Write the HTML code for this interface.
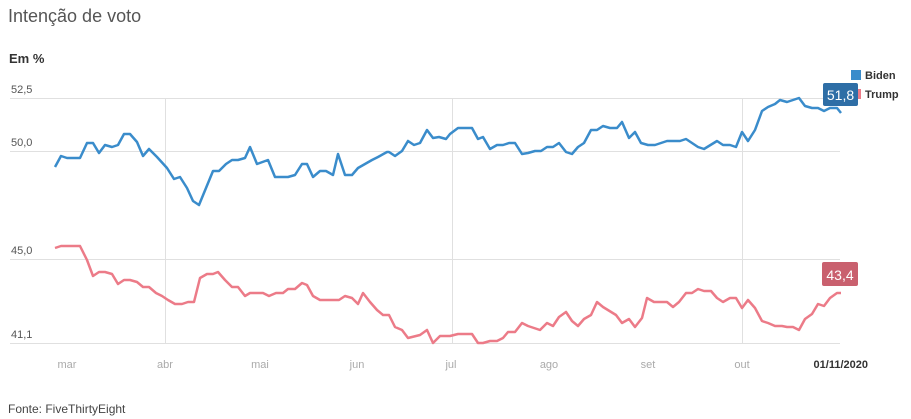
<!DOCTYPE html>
<html><head><meta charset="utf-8"><style>
html,body{margin:0;padding:0;background:#fff;width:911px;height:419px;overflow:hidden}
svg{display:block;font-family:"Liberation Sans",sans-serif}
</style></head><body>
<svg width="911" height="419" viewBox="0 0 911 419">
<text x="8" y="22" font-size="18" fill="#555">Intenção de voto</text>
<text x="9" y="63" font-size="13" font-weight="bold" fill="#333">Em %</text>
<g stroke="#e0e0e0" stroke-width="1">
<line x1="10" y1="98.5" x2="840" y2="98.5"/>
<line x1="10" y1="151.5" x2="840" y2="151.5"/>
<line x1="10" y1="259.5" x2="840" y2="259.5"/>
<line x1="10" y1="343.5" x2="840" y2="343.5"/>
<line x1="165.5" y1="99" x2="165.5" y2="343"/>
<line x1="452.5" y1="99" x2="452.5" y2="343"/>
<line x1="742.5" y1="99" x2="742.5" y2="343"/>
</g>
<g font-size="11" fill="#555">
<text x="11" y="93">52,5</text>
<text x="11" y="146">50,0</text>
<text x="11" y="254">45,0</text>
<text x="11" y="338">41,1</text>
</g>
<g font-size="11" fill="#aaa" text-anchor="middle">
<text x="67" y="368">mar</text><text x="165" y="368">abr</text><text x="260" y="368">mai</text>
<text x="357" y="368">jun</text><text x="451" y="368">jul</text><text x="549" y="368">ago</text>
<text x="648" y="368">set</text><text x="742" y="368">out</text>
</g>
<text x="868" y="368" font-size="11" font-weight="bold" fill="#333" text-anchor="end">01/11/2020</text>
<polyline fill="none" stroke="#3a8ccb" stroke-width="2.5" stroke-linejoin="round" points="55,167 61,156 67,158 80,158 87,143 93,143 99,153 105,145 112,147 118,145 124,134 130,134 137,142 143,156 149,149 157,157 167,168 174,179 180,177 187,188 193,201 199,205 206,188 213,171 219,171 226,164 232,160 238,160 245,158 250,147 257,164 268,160 275,177 288,177 295,175 302,164 307,164 313,177 320,171 326,171 333,175 338,154 345,175 352,175 358,168 365,164 372,160 378,157 387,152 389,152 395,156 402,151 408,141 414,145 420,143 427,130 433,138 439,137 446,139 450,134 458,128 472,128 478,139 483,137 490,149 497,145 503,145 509,143 515,143 522,154 528,153 535,151 541,151 547,147 553,147 559,143 566,152 572,154 578,147 584,143 591,130 597,130 603,126 610,128 617,128 622,122 629,138 635,132 641,143 648,145 655,145 667,141 680,141 686,139 692,143 698,147 704,149 717,141 723,145 730,145 736,147 742,132 748,141 755,130 762,111 768,107 775,104 780,100 787,102 793,100 799,98 805,106 812,108 818,108 824,111 830,108 837,108 841,113"/>
<polyline fill="none" stroke="#ec7b88" stroke-width="2.5" stroke-linejoin="round" points="55,248 61,246 80,246 87,260 93,276 99,272 105,272 112,274 118,284 124,280 130,280 137,282 143,287 149,287 156,293 162,296 168,300 175,304 182,304 188,302 194,302 200,278 207,274 213,274 218,272 225,280 232,287 238,287 245,296 250,293 263,293 269,296 276,293 283,293 288,289 295,289 302,283 307,285 313,296 320,300 339,300 345,296 352,298 358,304 363,293 370,302 377,310 383,315 389,315 395,327 402,330 408,338 420,335 427,330 433,343 440,336 450,336 458,334 472,334 478,343 483,343 490,341 497,341 503,338 508,332 515,332 522,323 528,326 540,330 547,323 553,326 559,317 566,312 572,321 578,326 584,319 591,315 597,302 603,307 616,315 622,323 629,319 635,327 642,318 647,298 654,302 667,302 673,307 679,302 686,293 692,293 698,289 704,291 711,291 717,298 723,302 730,298 736,298 742,308 748,300 755,308 762,321 768,323 775,326 782,326 787,327 793,327 799,330 805,319 812,314 818,304 824,306 830,298 837,293 841,293"/>
<rect x="851" y="70" width="10" height="10" fill="#3a8ccb"/>
<text x="865" y="79" font-size="11" font-weight="bold" fill="#333">Biden</text>
<rect x="851" y="89" width="10" height="10" fill="#ec7b88"/>
<text x="865" y="98" font-size="11" font-weight="bold" fill="#333">Trump</text>
<rect x="823" y="83" width="35" height="23" rx="2" fill="#2e6ea6"/>
<text x="840.5" y="100" font-size="14" fill="#fff" text-anchor="middle">51,8</text>
<rect x="822" y="262" width="36" height="24" rx="2" fill="#c9606e"/>
<text x="840" y="280" font-size="14" fill="#fff" text-anchor="middle">43,4</text>
<text x="8" y="413" font-size="12" fill="#444">Fonte: FiveThirtyEight</text>
</svg>
</body></html>
